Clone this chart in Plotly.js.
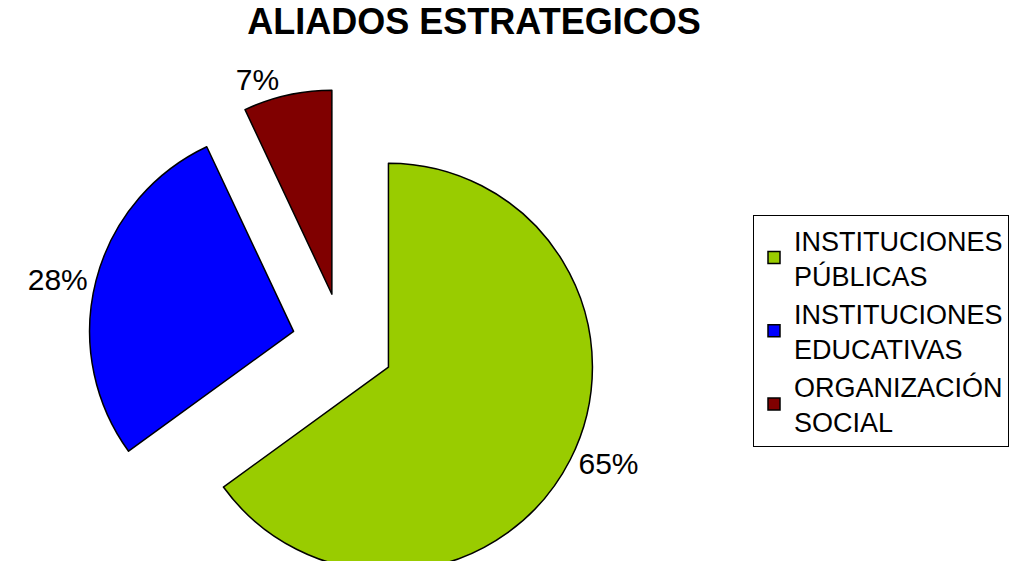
<!DOCTYPE html>
<html>
<head>
<meta charset="utf-8">
<script src="https://cdn.plot.ly/plotly-3.0.1.min.js"></script>
<style>
html, body { margin: 0; padding: 0; overflow: hidden; background: #fff; }
#chart { width: 1016px; height: 600px; }
</style>
</head>
<body>
<div id="chart"></div>
<script>
const categories = ["INSTITUCIONES<br>PÚBLICAS", "INSTITUCIONES<br>EDUCATIVAS", "ORGANIZACIÓN<br>SOCIAL"];
const values = [65, 28, 7];
const colors = ["#99CC00", "#0000FF", "#800000"];
const chartTitle = "ALIADOS ESTRATEGICOS";

const W = 1016, H = 600;
const font = "'Liberation Sans', Arial, sans-serif";

const trace = {
  type: "pie",
  labels: categories,
  values: values,
  sort: false,
  direction: "clockwise",
  rotation: 0,
  pull: [0.25, 0.25, 0.25],
  marker: { colors: colors, line: { color: "#000000", width: 1.5 } },
  textinfo: "percent",
  textposition: "outside",
  outsidetextfont: { family: font, size: 30, color: "#000000" },
  automargin: false,
  domain: { x: [88 / W, 598 / W], y: [1 / H, 511 / H] },
  hoverinfo: "label+percent"
};

const layout = {
  width: W,
  height: H,
  margin: { l: 0, r: 0, t: 0, b: 0 },
  paper_bgcolor: "#ffffff",
  plot_bgcolor: "#ffffff",
  font: { family: font, color: "#000000" },
  title: {
    text: "<b>" + chartTitle + "</b>",
    font: { family: font, size: 36, color: "#000000" },
    xref: "container", yref: "container",
    x: 474 / W, xanchor: "center",
    y: 1 - 9 / H, yanchor: "top"
  },
  showlegend: true,
  legend: {
    x: 753 / W, xanchor: "left",
    y: 1 - 331 / H, yanchor: "middle",
    bordercolor: "#000000", borderwidth: 1,
    bgcolor: "#ffffff",
    font: { family: font, size: 27, color: "#000000" },
    itemclick: false, itemdoubleclick: false
  }
};

Plotly.newPlot("chart", [trace], layout, { displayModeBar: false, staticPlot: true });
</script>
</body>
</html>
